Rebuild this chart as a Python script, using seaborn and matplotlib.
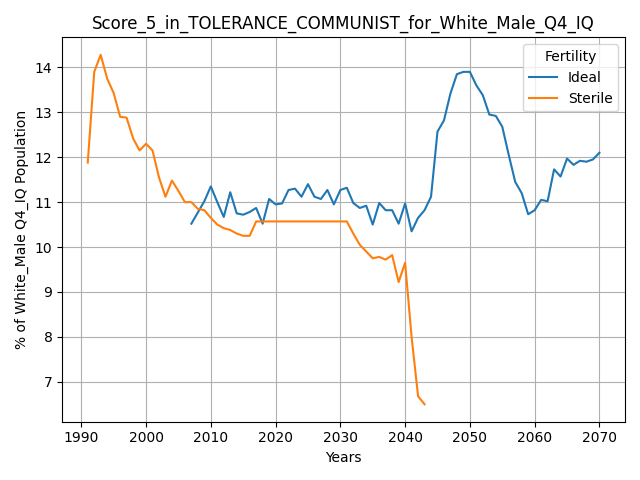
import numpy as np
import pandas as pd
import matplotlib
matplotlib.use("Agg")
import matplotlib.pyplot as plt
import seaborn as sns

ideal_years = list(range(2007, 2071))
ideal_vals = [10.52, 10.77, 11.02, 11.35, 11.0, 10.67, 11.22, 10.75, 10.72, 10.78,
              10.87, 10.52, 11.07, 10.95, 10.97, 11.27, 11.3, 11.12, 11.4, 11.12,
              11.07, 11.27, 10.95, 11.27, 11.32, 10.98, 10.87, 10.92, 10.5, 10.98,
              10.82, 10.82, 10.52, 10.97, 10.35, 10.65, 10.82, 11.12, 12.57, 12.82,
              13.42, 13.85, 13.9, 13.9, 13.6, 13.38, 12.95, 12.92, 12.68, 12.05,
              11.45, 11.2, 10.73, 10.82, 11.05, 11.02, 11.73, 11.57, 11.97, 11.83,
              11.92, 11.9, 11.95, 12.1]

sterile_years = list(range(1991, 2044))
sterile_vals = [11.88, 13.9, 14.28, 13.75, 13.43, 12.9, 12.88, 12.42, 12.15, 12.3,
                12.15, 11.55, 11.12, 11.48, 11.25, 11.0, 11.0, 10.85, 10.82, 10.65,
                10.5, 10.42, 10.38, 10.3, 10.25, 10.25, 10.57, 10.57, 10.57, 10.57,
                10.57, 10.57, 10.57, 10.57, 10.57, 10.57, 10.57, 10.57, 10.57, 10.57,
                10.57, 10.3, 10.05, 9.9, 9.75, 9.78, 9.72, 9.82, 9.22, 9.65,
                8.0, 6.68, 6.5]

df = pd.concat([
    pd.DataFrame({"Years": ideal_years, "value": ideal_vals, "Fertility": "Ideal"}),
    pd.DataFrame({"Years": sterile_years, "value": sterile_vals, "Fertility": "Sterile"}),
])

fig, ax = plt.subplots(figsize=(6.4, 4.8), dpi=100)
sns.lineplot(data=df, x="Years", y="value", hue="Fertility", ax=ax)
ax.grid(True)
ax.set_title("Score_5_in_TOLERANCE_COMMUNIST_for_White_Male_Q4_IQ")
ax.set_ylabel("% of White_Male Q4_IQ Population")
ax.set_xlabel("Years")
fig.tight_layout()
fig.savefig("out.png")
